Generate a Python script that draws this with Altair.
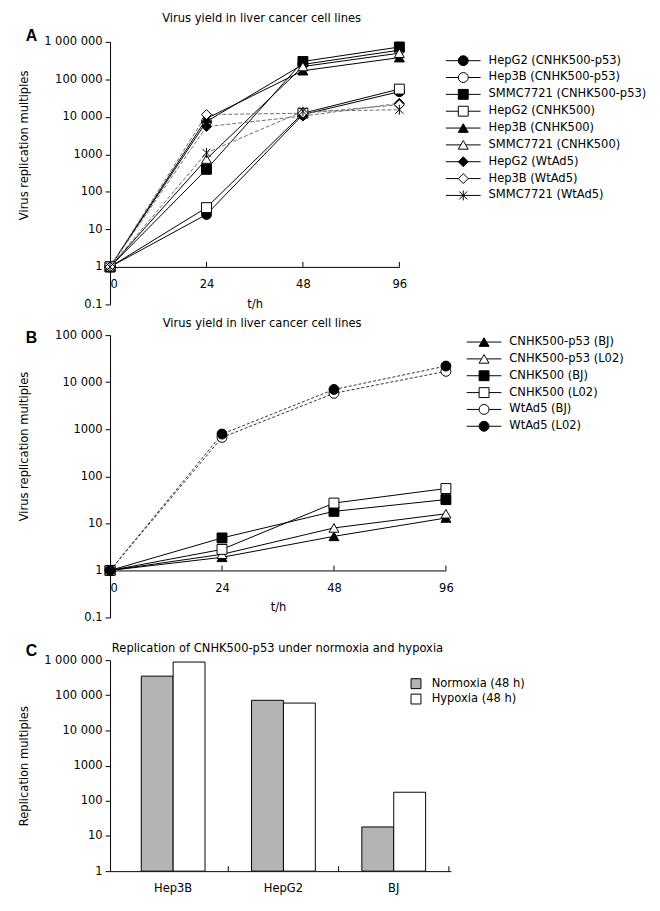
import math
import altair as alt
import pandas as pd

FONT = "DejaVu Sans"
LETTER_FONT = "Liberation Sans"
FS = 11.6

TIMES = ["0", "24", "48", "96"]

# ---------------- Panel A data ----------------
A_SERIES = [
    "HepG2 (CNHK500-p53)", "Hep3B (CNHK500-p53)", "SMMC7721 (CNHK500-p53)",
    "HepG2 (CNHK500)", "Hep3B (CNHK500)", "SMMC7721 (CNHK500)",
    "HepG2 (WtAd5)", "Hep3B (WtAd5)", "SMMC7721 (WtAd5)",
]
A_HEPG2_P53 = [1, 25, 11500, 47000]
A_HEP3B_P53 = [1, 7500, 250000, 600000]
A_SMMC_P53 = [1, 400, 300000, 730000]
A_HEPG2_CNHK = [1, 38, 12500, 55000]
A_HEP3B_CNHK = [1, 9000, 170000, 380000]
A_SMMC_CNHK = [1, 750, 220000, 500000]
A_HEPG2_WT = [1, 5500, 10500, 23000]
A_HEP3B_WT = [1, 11500, 12500, 21000]
A_SMMC_WT = [1, 1100, 14000, 15500]
A_VALUES = [A_HEPG2_P53, A_HEP3B_P53, A_SMMC_P53, A_HEPG2_CNHK, A_HEP3B_CNHK,
            A_SMMC_CNHK, A_HEPG2_WT, A_HEP3B_WT, A_SMMC_WT]
A_DASHED = ["HepG2 (WtAd5)", "Hep3B (WtAd5)", "SMMC7721 (WtAd5)"]

# ---------------- Panel B data ----------------
B_SERIES = ["CNHK500-p53 (BJ)", "CNHK500-p53 (L02)", "CNHK500 (BJ)",
            "CNHK500 (L02)", "WtAd5 (BJ)", "WtAd5 (L02)"]
B_P53_BJ = [1, 1.9, 5.3, 13]
B_P53_L02 = [1, 2.2, 8, 16]
B_CNHK_BJ = [1, 4.9, 18, 32]
B_CNHK_L02 = [1, 2.8, 27, 55]
B_WT_BJ = [1, 670, 5800, 17000]
B_WT_L02 = [1, 790, 7000, 22000]
B_VALUES = [B_P53_BJ, B_P53_L02, B_CNHK_BJ, B_CNHK_L02, B_WT_BJ, B_WT_L02]
B_DASHED = ["WtAd5 (BJ)", "WtAd5 (L02)"]

# ---------------- Panel C data ----------------
C_CELLS = ["Hep3B", "HepG2", "BJ"]
C_CONDS = ["Normoxia (48 h)", "Hypoxia (48 h)"]
C_NORMOXIA = [350000, 72000, 18]
C_HYPOXIA = [880000, 60000, 175]

# ---------------- axis ticks ----------------
Y_TICKS_A = [0.1, 1, 10, 100, 1000, 10000, 100000, 1000000]
Y_LABELS_A = ["0.1", "1", "10", "100", "1000", "10 000", "100 000", "1 000 000"]
Y_TICKS_B = [0.1, 1, 10, 100, 1000, 10000, 100000]
Y_LABELS_B = ["0.1", "1", "10", "100", "1000", "10 000", "100 000"]
Y_TICKS_C = [1, 10, 100, 1000, 10000, 100000, 1000000]
Y_LABELS_C = ["1", "10", "100", "1000", "10 000", "100 000", "1 000 000"]

# styles
ASTERISK = "M0,-1L0,1M-0.8,-0.8L0.8,0.8M-0.8,0.8L0.8,-0.8"
A_SHAPES = ["circle", "circle", "square", "square", "triangle-up", "triangle-up",
            "diamond", "diamond", ASTERISK]
A_FILLS = ["black", "white", "black", "white", "black", "white", "black", "white", "white"]
B_SHAPES = ["triangle-up", "triangle-up", "square", "square", "circle", "circle"]
B_FILLS = ["black", "white", "black", "white", "white", "black"]


def label_expr(vals, labels):
    parts = [f"abs(log(datum.value)/LN10 - ({math.log10(v):.4f})) < 0.01 ? '{l}'"
             for v, l in zip(vals, labels)]
    return " : ".join(parts) + " : datum.label"


def long_df(key, series, values):
    rows = []
    for s, vals in zip(series, values):
        for t, v in zip(TIMES, vals):
            rows.append({key: s, "t": t, "value": v})
    return pd.DataFrame(rows)


def line_panel(key, series, values, dashed, shapes, fills, yticks, ylabels, ymax,
               width, height, title_text, title_dx, title_offset, letter, letter_y,
               ytitle_y, leg_x, leg_range, tick_hi, dash_color, dash_pattern):
    df = long_df(key, series, values)
    n_dec = math.log10(ymax) - math.log10(0.1)
    decade = height / n_dec
    solid = [s for s in series if s not in dashed]

    x = alt.X("t:O", sort=TIMES, scale=alt.Scale(type="point", padding=0),
              axis=alt.Axis(title="t/h", offset=-decade, ticks=False, tickSize=0,
                            labelPadding=12, titlePadding=8, labelAngle=0,
                            labelAlign={"condition": {"test": "datum.label == '0'", "value": "left"},
                                        "value": "center"}))
    y = alt.Y("value:Q", scale=alt.Scale(type="log", domain=[0.1, ymax], nice=False),
              axis=alt.Axis(values=yticks, labelExpr=label_expr(yticks, ylabels),
                            title="Virus replication multiples", titleX=-81, titleY=ytitle_y,
                            tickSize=5, labelPadding=3, grid=False))
    shape = alt.Shape(f"{key}:N", scale=alt.Scale(domain=series, range=shapes), legend=None)
    fill = alt.Fill(f"{key}:N", scale=alt.Scale(domain=series, range=fills), legend=None)

    base = alt.Chart(df)
    l_solid = base.mark_line(color="black", strokeWidth=1).encode(
        x=x, y=y, detail=f"{key}:N").transform_filter(
        alt.FieldOneOfPredicate(field=key, oneOf=solid))
    l_dash = base.mark_line(color=dash_color, strokeWidth=1, strokeDash=dash_pattern).encode(
        x=x, y=y, detail=f"{key}:N").transform_filter(
        alt.FieldOneOfPredicate(field=key, oneOf=dashed))
    pts = base.mark_point(filled=True, stroke="black", strokeWidth=1, size=100, opacity=1).encode(
        x=x, y=y, shape=shape, fill=fill)
    ticks = alt.Chart(pd.DataFrame({"t": TIMES[1:]})).mark_rule(color="black", strokeWidth=1).encode(
        x=alt.X("t:O", sort=TIMES), y=alt.datum(1), y2=alt.datum(tick_hi))
    let = alt.Chart(pd.DataFrame({"l": [letter]})).mark_text(
        font=LETTER_FONT, fontSize=16, fontWeight="bold", align="left",
        baseline="alphabetic", color="black").encode(
        text="l:N", x=alt.value(-85), y=alt.value(letter_y))

    main = alt.layer(l_solid, l_dash, ticks, pts, let)

    leg = alt.Chart(pd.DataFrame({key: series}))
    ly = alt.Y(f"{key}:N", sort=series,
               scale=alt.Scale(type="point", domain=series, range=leg_range, padding=0),
               axis=None)
    lr = leg.mark_rule(color="black", strokeWidth=1).encode(
        x=alt.value(leg_x), x2=alt.value(leg_x + 35), y=ly)
    lp = leg.mark_point(filled=True, stroke="black", strokeWidth=1, size=100, opacity=1).encode(
        x=alt.value(leg_x + 17.5), y=ly, shape=shape, fill=fill)
    lt = leg.mark_text(font=FONT, fontSize=FS, align="left", baseline="middle", color="black").encode(
        x=alt.value(leg_x + 43), y=ly, text=f"{key}:N")
    legend = alt.layer(lr, lp, lt)

    return alt.layer(main, legend).resolve_scale(y="independent").properties(
        width=width, height=height,
        title=alt.Title(title_text, font=FONT, fontSize=FS, fontWeight="normal",
                        anchor="middle", dx=title_dx, offset=title_offset, color="black",
                        frame="group"))


chart_a = line_panel("seriesA", A_SERIES, A_VALUES, A_DASHED, A_SHAPES, A_FILLS,
                     Y_TICKS_A, Y_LABELS_A, 1e6, 292, 265,
                     "Virus yield in liver cancer cell lines", 7, 3,
                     "A", -1, 104, 339, [19, 155], 1.36, "#6e6e6e", [4, 2])
chart_b = line_panel("seriesB", B_SERIES, B_VALUES, B_DASHED, B_SHAPES, B_FILLS,
                     Y_TICKS_B, Y_LABELS_B, 1e5, 339, 285,
                     "Virus yield in liver cancer cell lines", -16, 0,
                     "B", 8, 112, 360, [7, 92], 1.27, "#333333", [3, 2])

# ---------------- Panel C ----------------
rows = []
for c, n, h in zip(C_CELLS, C_NORMOXIA, C_HYPOXIA):
    rows.append({"cell": c, "cond": C_CONDS[0], "value": n})
    rows.append({"cell": c, "cond": C_CONDS[1], "value": h})
df_c = pd.DataFrame(rows)

xc = alt.X("cell:N", sort=C_CELLS,
           scale=alt.Scale(paddingInner=0, paddingOuter=0.045, align=0.8),
           axis=alt.Axis(title=None, ticks=False, tickSize=0, labelPadding=12, labelAngle=0))
yc = alt.Y("value:Q", scale=alt.Scale(type="log", domain=[1, 1e6], nice=False),
           axis=alt.Axis(values=Y_TICKS_C, labelExpr=label_expr(Y_TICKS_C, Y_LABELS_C),
                         title="Replication multiples", titleX=-81, tickSize=5,
                         labelPadding=3, grid=False))
bars = alt.Chart(df_c).mark_bar(stroke="black", strokeWidth=1).encode(
    x=xc,
    xOffset=alt.XOffset("cond:N", sort=C_CONDS,
                        scale=alt.Scale(paddingOuter=0.73, paddingInner=0)),
    y=yc,
    y2=alt.datum(1),
    fill=alt.Fill("cond:N", sort=C_CONDS,
                  scale=alt.Scale(domain=C_CONDS, range=["#b4b4b4", "white"]),
                  legend=alt.Legend(title=None, orient="none", legendX=303, legendY=18,
                                    symbolType="square", symbolSize=100,
                                    symbolStrokeColor="black", symbolStrokeWidth=1,
                                    labelFont=FONT, labelFontSize=FS, labelColor="black",
                                    labelOffset=10, rowPadding=0.5, padding=0)),
)
ticks_c = alt.Chart(pd.DataFrame({"cell": C_CELLS})).mark_rule(color="black", strokeWidth=1).encode(
    x=alt.X("cell:N", sort=C_CELLS, bandPosition=1), y=alt.datum(1), y2=alt.datum(1.38))
let_c = alt.Chart(pd.DataFrame({"l": ["C"]})).mark_text(
    font=LETTER_FONT, fontSize=16, fontWeight="bold", align="left",
    baseline="alphabetic", color="black").encode(
    text="l:N", x=alt.value(-85), y=alt.value(-4))

chart_c = alt.layer(bars, ticks_c, let_c).properties(
    width=344, height=213,
    title=alt.Title("Replication of CNHK500-p53 under normoxia and hypoxia", font=FONT,
                    fontSize=FS, fontWeight="normal", anchor="middle", dx=-3, offset=-11,
                    color="black", frame="group"))

top_two = alt.vconcat(chart_a, chart_b, spacing=7).resolve_scale(
    shape="independent", fill="independent")
chart = alt.vconcat(top_two, chart_c, spacing=19).resolve_scale(
    shape="independent", fill="independent").properties(
    padding={"left": 10, "top": 1, "right": 5, "bottom": 5}
).configure_view(stroke=None).configure_axis(
    domainColor="black", tickColor="black", labelColor="black", titleColor="black",
    labelFont=FONT, titleFont=FONT, labelFontSize=FS, titleFontSize=FS,
    titleFontWeight="normal", grid=False
)

chart.save("out.html", embed_options={"renderer": "svg", "actions": False})
